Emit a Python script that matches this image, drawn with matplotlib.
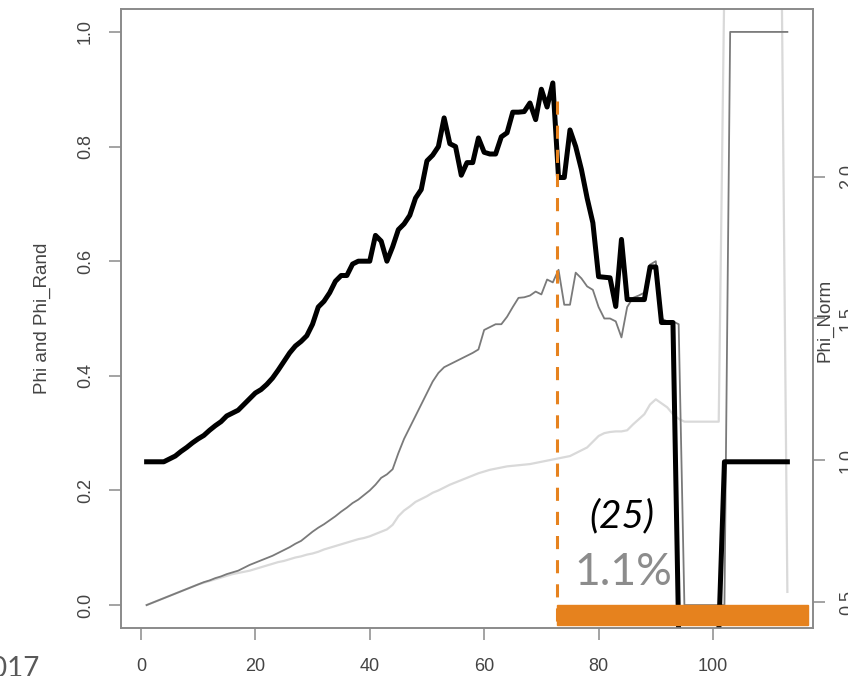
import matplotlib.pyplot as plt
from matplotlib.patches import Rectangle

# Values, one per step (x = 1..113)
steps = list(range(1, 114))

phi = [
    0.25, 0.25, 0.25, 0.25, 0.255, 0.26, 0.268, 0.275, 0.283, 0.29,
    0.296, 0.305, 0.313, 0.32, 0.33, 0.335, 0.34, 0.35, 0.36, 0.37,
    0.376, 0.385, 0.396, 0.41, 0.425, 0.44, 0.452, 0.46, 0.47, 0.49,
    0.52, 0.53, 0.545, 0.565, 0.575, 0.575, 0.595, 0.60, 0.60, 0.60,
    0.645, 0.635, 0.60, 0.625, 0.655, 0.665, 0.68, 0.71, 0.725, 0.775,
    0.785, 0.80, 0.85, 0.805, 0.80, 0.75, 0.772, 0.772, 0.815, 0.79,
    0.787, 0.787, 0.817, 0.824, 0.86, 0.86, 0.861, 0.876, 0.847, 0.90,
    0.869, 0.911, 0.746, 0.746, 0.829, 0.80, 0.76, 0.71, 0.667, 0.573,
    0.572, 0.571, 0.521, 0.638, 0.533, 0.533, 0.533, 0.533, 0.59, 0.59,
    0.493, 0.493, 0.493, -0.05, -0.05, -0.05, -0.05, -0.05, -0.05, -0.05,
    -0.05, 0.25, 0.25, 0.25, 0.25, 0.25, 0.25, 0.25, 0.25, 0.25,
    0.25, 0.25, 0.25,
]

phi_rand = [
    0.0, 0.004, 0.008, 0.012, 0.016, 0.02, 0.024, 0.028, 0.032, 0.036,
    0.04, 0.043, 0.047, 0.05, 0.054, 0.057, 0.06, 0.065, 0.07, 0.074,
    0.078, 0.082, 0.086, 0.091, 0.096, 0.101, 0.107, 0.112, 0.12, 0.128,
    0.135, 0.141, 0.148, 0.155, 0.163, 0.17, 0.178, 0.184, 0.192, 0.20,
    0.21, 0.222, 0.228, 0.237, 0.265, 0.29, 0.31, 0.33, 0.35, 0.37,
    0.39, 0.405, 0.415, 0.42, 0.425, 0.43, 0.435, 0.44, 0.446, 0.48,
    0.485, 0.49, 0.49, 0.503, 0.52, 0.536, 0.537, 0.54, 0.547, 0.542,
    0.568, 0.563, 0.585, 0.524, 0.524, 0.58, 0.57, 0.556, 0.55, 0.52,
    0.50, 0.50, 0.495, 0.467, 0.52, 0.536, 0.54, 0.545, 0.594, 0.60,
    0.50, 0.495, 0.495, 0.49, 0.0, 0.0, 0.0, 0.0, 0.0, 0.0,
    0.0, 0.0, 1.0, 1.0, 1.0, 1.0, 1.0, 1.0, 1.0, 1.0,
    1.0, 1.0, 1.0,
]

phi_norm = [
    0.0, 0.004, 0.008, 0.012, 0.016, 0.02, 0.024, 0.028, 0.032, 0.036,
    0.039, 0.042, 0.045, 0.048, 0.051, 0.054, 0.056, 0.058, 0.06, 0.063,
    0.066, 0.069, 0.072, 0.075, 0.077, 0.08, 0.083, 0.085, 0.088, 0.09,
    0.093, 0.097, 0.10, 0.103, 0.106, 0.109, 0.112, 0.115, 0.117, 0.12,
    0.124, 0.128, 0.132, 0.14, 0.155, 0.165, 0.172, 0.18, 0.185, 0.19,
    0.196, 0.20, 0.205, 0.21, 0.214, 0.218, 0.222, 0.226, 0.23, 0.233,
    0.236, 0.238, 0.24, 0.242, 0.243, 0.244, 0.245, 0.246, 0.248, 0.25,
    0.252, 0.254, 0.256, 0.258, 0.26, 0.265, 0.27, 0.275, 0.285, 0.295,
    0.30, 0.302, 0.303, 0.303, 0.305, 0.315, 0.324, 0.333, 0.35, 0.359,
    0.352, 0.345, 0.333, 0.325, 0.32, 0.32, 0.32, 0.32, 0.32, 0.32,
    0.32, 1.1, 1.1, 1.1, 1.1, 1.1, 1.1, 1.1, 1.1, 1.1,
    1.1, 1.1, 0.023,
]

x_ticks = [0, 20, 40, 60, 80, 100]
left_ticks = [0.0, 0.2, 0.4, 0.6, 0.8, 1.0]
right_ticks = [0.5, 1.0, 1.5, 2.0]

# orange annotation: cut point and the span after it
cut_x = 72.8
span_end = 116.6
cut_count = '(25)'
cut_share = '1.1%'

ORANGE = '#E6821E'
AXIS_GREY = '#8a8a8a'
TEXT_GREY = '#444444'

plt.rcParams['font.family'] = ['Liberation Sans', 'DejaVu Sans']

fig = plt.figure(figsize=(8.48, 6.76), dpi=100)
ax = fig.add_axes([121 / 848, 1 - 628 / 676, 692 / 848, 619 / 676])

ax.plot(steps, phi_norm, color='#d9d9d9', lw=1.6, zorder=2)
ax.plot(steps, phi_rand, color='#7a7a7a', lw=1.3, zorder=3)
ax.plot(steps, phi, color='black', lw=3.6, zorder=4, solid_joinstyle='round')

ax.set_xlim(-3.48, 117.48)
ax.set_ylim(-0.04, 1.04)
ax.set_xticks(x_ticks)
ax.set_yticks(left_ticks)
ax.set_xticklabels([str(t) for t in x_ticks])
ax.set_yticklabels(['%.1f' % t for t in left_ticks])

for side in ax.spines.values():
    side.set_color(AXIS_GREY)
    side.set_linewidth(1.2)
ax.tick_params(axis='both', direction='out', length=8.6, width=1.1,
               color=AXIS_GREY, labelcolor=TEXT_GREY, labelsize=13)
ax.tick_params(axis='x', pad=13)
ax.tick_params(axis='y', pad=11, labelrotation=90)
for lab in ax.get_yticklabels():
    lab.set_va('center')

# right hand axis for Phi_Norm
ax2 = ax.twinx()
ax2.set_ylim(0.41, 2.59)
ax2.set_yticks(right_ticks)
ax2.set_yticklabels(['%.1f' % t for t in right_ticks])
for side in ax2.spines.values():
    side.set_color(AXIS_GREY)
    side.set_linewidth(1.2)
ax2.tick_params(axis='y', direction='out', length=8.6, width=1.1,
                color=AXIS_GREY, labelcolor=TEXT_GREY, labelsize=13,
                pad=10, labelrotation=90)
for lab in ax2.get_yticklabels():
    lab.set_va('center')

fig.text(42 / 848, 1 - 318 / 676, 'Phi and Phi_Rand', rotation=90,
         ha='center', va='center', fontsize=13.5, color=TEXT_GREY)
fig.text(825 / 848, 1 - 320 / 676, 'Phi_Norm', rotation=90,
         ha='center', va='center', fontsize=13.5, color=TEXT_GREY)

# orange overlay
ax.plot([cut_x, cut_x], [0.88, -0.04], color=ORANGE, lw=2.2,
        ls=(0, (4.3, 3.6)), zorder=6, clip_on=False)
ax.add_patch(Rectangle((cut_x, -0.035), span_end - cut_x, 0.035,
                       color=ORANGE, zorder=7, clip_on=False))
ax.text(84.1, 0.155, cut_count, ha='center', va='center', fontsize=28,
        style='italic', color='black', family=['Lato', 'DejaVu Sans'], zorder=8)
ax.text(84.3, 0.056, cut_share, ha='center', va='center', fontsize=32,
        color='#8c8c8c', family=['Lato', 'DejaVu Sans'], zorder=8)

# slide footer, cut by the lower edge
fig.text(40 / 848, 1 - 656 / 676, '2017', ha='right', va='top',
         fontsize=20, color='#595959', family=['Lato', 'DejaVu Sans'])

plt.savefig('out.png', dpi=100)
